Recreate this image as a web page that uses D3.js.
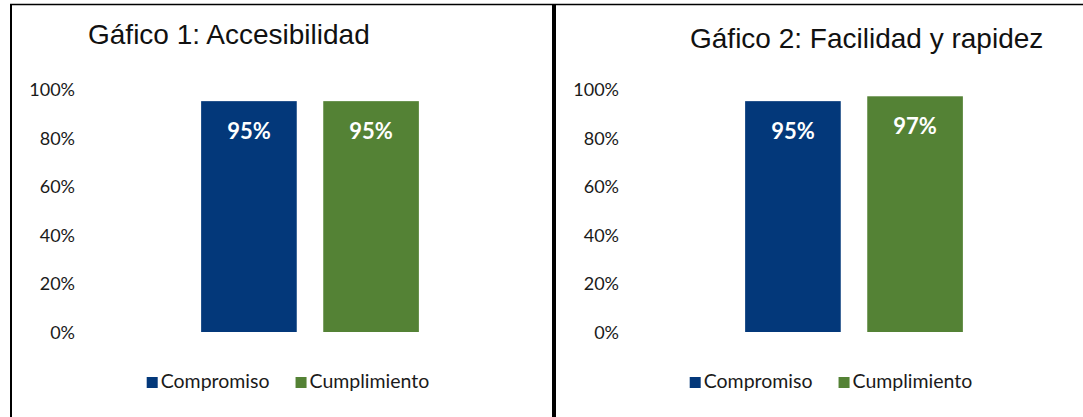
<!DOCTYPE html>
<html>
<head>
<meta charset="utf-8">
<script src="https://cdn.jsdelivr.net/npm/d3@7"></script>
<style>
  body { margin: 0; background: #fff; }
  svg { display: block; }
  .tick text { font-family: Lato, "Open Sans", sans-serif; font-size: 18px; fill: #1a1a1a; }
</style>
</head>
<body>
<svg id="chart"></svg>
<script>
// data
const categories = ['Compromiso', 'Cumplimiento'];
const panelTitles = ['Gáfico 1: Accesibilidad', 'Gáfico 2: Facilidad y rapidez'];
const valuesAccesibilidad = [0.95, 0.95];
const valuesFacilidad = [0.95, 0.97];
const tickValues = [0, 0.2, 0.4, 0.6, 0.8, 1.0];
const colors = ['#03387a', '#548235'];

const width = 1083, height = 417;

const svg = d3.select('#chart')
    .attr('width', width)
    .attr('height', height);

// frame lines
svg.append('line')
    .attr('x1', 10).attr('x2', width)
    .attr('y1', 4.5).attr('y2', 4.5)
    .attr('stroke', '#000').attr('stroke-width', 1.5);
svg.append('line')
    .attr('x1', 11).attr('x2', 11)
    .attr('y1', 4).attr('y2', height)
    .attr('stroke', '#000').attr('stroke-width', 2);
svg.append('line')
    .attr('x1', 554).attr('x2', 554)
    .attr('y1', 4).attr('y2', height)
    .attr('stroke', '#000').attr('stroke-width', 4);

function drawPanel(cfg) {
    const g = svg.append('g')
        .attr('transform', `translate(${cfg.offset},0)`);

    const x = d3.scaleBand()
        .domain(categories)
        .range([79, 541])
        .paddingInner(0.217)
        .paddingOuter(1);

    const y = d3.scaleLinear()
        .domain([0, 1])
        .range([332, 89]);

    // title
    svg.append('text')
        .attr('x', cfg.titleX)
        .attr('y', cfg.titleY)
        .attr('font-family', '"Liberation Sans", Arial, sans-serif')
        .attr('font-size', 28)
        .attr('fill', '#111')
        .text(cfg.title);

    // y axis, labels only
    const yAxis = d3.axisLeft(y)
        .tickValues(tickValues)
        .tickFormat(d3.format('.0%'))
        .tickSize(0)
        .tickPadding(0);

    g.append('g')
        .attr('transform', 'translate(75,0)')
        .call(yAxis)
        .call(a => a.select('.domain').remove())
        .selectAll('text')
        .attr('dy', '0.36em');

    const rows = categories.map((c, i) => ({ cat: c, value: cfg.values[i], color: colors[i] }));

    g.selectAll('rect.bar')
        .data(rows)
        .join('rect')
        .attr('class', 'bar')
        .attr('x', d => x(d.cat))
        .attr('y', d => y(d.value))
        .attr('width', x.bandwidth())
        .attr('height', d => y(0) - y(d.value))
        .attr('fill', d => d.color);

    g.selectAll('text.val')
        .data(rows)
        .join('text')
        .attr('class', 'val')
        .attr('x', d => x(d.cat) + x.bandwidth() / 2)
        .attr('y', d => y(d.value) + 38)
        .attr('text-anchor', 'middle')
        .attr('font-family', 'Lato, "Open Sans", sans-serif')
        .attr('font-weight', 700)
        .attr('font-size', 22)
        .attr('fill', '#fff')
        .text(d => d3.format('.0%')(d.value));

    // legend
    const leg = g.append('g');
    let cx = 0;
    rows.forEach(d => {
        const item = leg.append('g').attr('transform', `translate(${cx},0)`);
        item.append('rect')
            .attr('x', 0).attr('y', -11)
            .attr('width', 11).attr('height', 11)
            .attr('fill', d.color);
        const t = item.append('text')
            .attr('x', 14)
            .attr('y', 0)
            .attr('font-family', 'Lato, "Open Sans", sans-serif')
            .attr('font-size', 19.5)
            .attr('fill', '#1a1a1a')
            .text(d.cat);
        cx += 14 + t.node().getComputedTextLength() + 26;
    });
    const total = cx - 26;
    leg.attr('transform', `translate(${cfg.legendCenter - total / 2},388)`);
}

drawPanel({ offset: 0, title: panelTitles[0], titleX: 88, titleY: 44, values: valuesAccesibilidad, legendCenter: 288 });
drawPanel({ offset: 544, title: panelTitles[1], titleX: 690, titleY: 48, values: valuesFacilidad, legendCenter: 287 });
</script>
</body>
</html>
